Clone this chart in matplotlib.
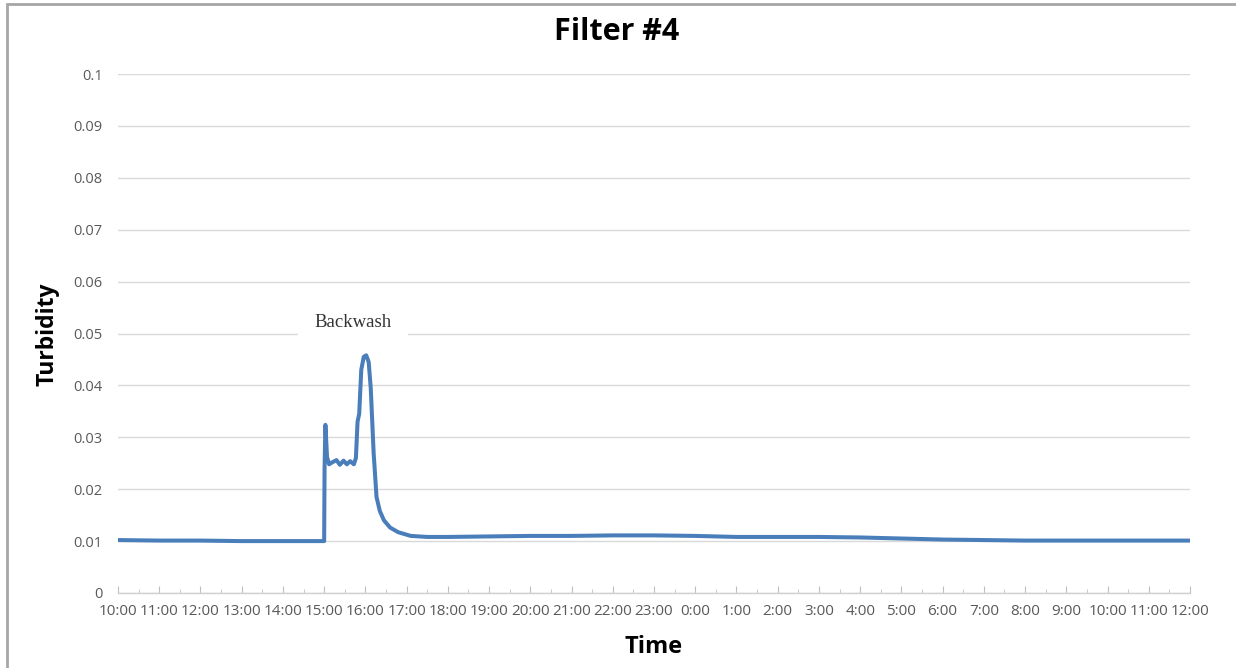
import matplotlib
matplotlib.use("Agg")
import matplotlib.pyplot as plt
from matplotlib.patches import Rectangle
from matplotlib.ticker import MultipleLocator

# Hours elapsed since 10:00
hours = [0, 1, 2, 3, 4, 5.0, 5.01, 5.03, 5.07, 5.12, 5.2, 5.3, 5.38, 5.47, 5.55,
         5.63, 5.72, 5.77, 5.81, 5.85, 5.9, 5.96, 6.02, 6.08, 6.13, 6.2, 6.27,
         6.35, 6.45, 6.6, 6.8, 7.1, 7.5, 8, 9, 10, 11, 12, 13, 14, 15, 16, 17,
         18, 19, 20, 21, 22, 23, 24, 25, 26]
turbidity = [0.0102, 0.0101, 0.0101, 0.0100, 0.0100, 0.0100, 0.0240, 0.0324, 0.0262,
             0.0248, 0.0252, 0.0256, 0.0247, 0.0255, 0.0248, 0.0254, 0.0248, 0.0260,
             0.0330, 0.0345, 0.0430, 0.0455, 0.0458, 0.0445, 0.0395, 0.0270, 0.0185,
             0.0158, 0.0140, 0.0126, 0.0117, 0.0110, 0.0108, 0.0108, 0.0109, 0.0110,
             0.0110, 0.0111, 0.0111, 0.0110, 0.0108, 0.0108, 0.0108, 0.0107, 0.0105,
             0.0103, 0.0102, 0.0101, 0.0101, 0.0101, 0.0101, 0.0101]

x_labels = ["10:00", "11:00", "12:00", "13:00", "14:00", "15:00", "16:00", "17:00",
            "18:00", "19:00", "20:00", "21:00", "22:00", "23:00", "0:00", "1:00",
            "2:00", "3:00", "4:00", "5:00", "6:00", "7:00", "8:00", "9:00", "10:00",
            "11:00", "12:00"]
y_ticks = [0, 0.01, 0.02, 0.03, 0.04, 0.05, 0.06, 0.07, 0.08, 0.09, 0.1]
y_labels = ["0", "0.01", "0.02", "0.03", "0.04", "0.05", "0.06", "0.07", "0.08", "0.09", "0.1"]

W, H = 1236, 668
fig = plt.figure(figsize=(W / 100, H / 100), dpi=100)
ax = fig.add_axes([118 / W, 1 - 593 / H, (1190 - 118) / W, (593 - 74) / H])

ax.plot(hours, turbidity, color="#4a7ebb", lw=2.9, solid_joinstyle="round",
        solid_capstyle="round", zorder=3)

ax.set_xlim(0, 26)
ax.set_ylim(0, 0.1)
ax.set_xticks(range(len(x_labels)))
ax.set_xticklabels(x_labels, fontname="Open Sans", fontsize=11, color="#595959")
ax.xaxis.set_minor_locator(MultipleLocator(0.5))
ax.set_yticks(y_ticks)
ax.set_yticklabels(y_labels, fontname="Open Sans", fontsize=10.5, color="#595959")

ax.tick_params(axis="x", which="major", direction="in", length=5, color="#bfbfbf", pad=8)
ax.tick_params(axis="x", which="minor", direction="in", length=3, color="#bfbfbf")
ax.tick_params(axis="y", length=0, pad=11)

ax.grid(axis="y", color="#d9d9d9", lw=1.0, zorder=0)
ax.set_axisbelow(True)
for s in ["top", "right", "left"]:
    ax.spines[s].set_visible(False)
ax.spines["bottom"].set_color("#d0d0d0")
ax.spines["bottom"].set_linewidth(1.0)

fig.text(617 / W, 1 - 32 / H, "Filter #4", ha="center", va="center",
         fontsize=22, fontweight="bold", fontname="Open Sans")
fig.text(47 / W, 1 - 334 / H, "Turbidity", ha="center", va="center", rotation=90,
         fontsize=16.5, fontweight="bold", fontname="Open Sans")
fig.text(654 / W, 1 - 647 / H, "Time", ha="center", va="center",
         fontsize=17, fontweight="bold", fontname="Open Sans")

ax.text(5.7, 0.0522, "Backwash", ha="center", va="center", fontsize=13.5,
        fontname="Liberation Serif", color="#333333",
        bbox=dict(boxstyle="square,pad=0.9", fc="white", ec="none"), zorder=2)

fig.patches.append(Rectangle((7 / W, -0.05), 1.2, 1 - 4 / H + 0.05, transform=fig.transFigure,
                             fill=False, ec="#a6a6a6", lw=2.0))

fig.savefig("out.png", dpi=100, facecolor="white")
